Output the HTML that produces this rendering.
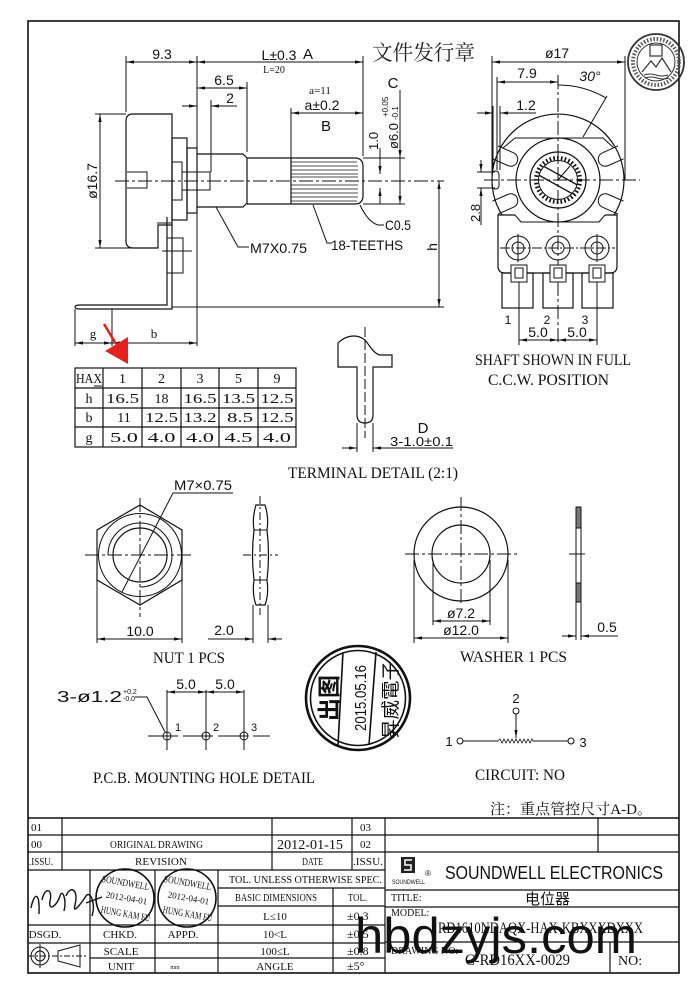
<!DOCTYPE html>
<html><head><meta charset="utf-8"><style>
html,body{margin:0;padding:0;background:#fff;}
svg{display:block;}
.s{font-family:"Liberation Sans","Noto Sans CJK SC",sans-serif;fill:#111;}
.r{font-family:"Liberation Serif","Noto Serif CJK SC",serif;fill:#111;}
</style></head><body>
<svg width="700" height="984" viewBox="0 0 700 984" xmlns="http://www.w3.org/2000/svg">
<defs>
<marker id="a" viewBox="0 0 10 10" refX="10" refY="5" markerWidth="8" markerHeight="8" orient="auto-start-reverse" markerUnits="userSpaceOnUse"><path d="M0,3 L10,5 L0,7 z" fill="#111"/></marker>
</defs>
<rect width="700" height="984" fill="#fff"/>
<!-- frame -->
<rect x="28" y="21" width="651" height="952" fill="none" stroke="#111" stroke-width="1.6"/>

<g stroke="#111" fill="none" stroke-width="1">
<!-- ===== side view dims ===== -->
<line x1="126" y1="62" x2="197" y2="62" marker-start="url(#a)" marker-end="url(#a)"/>
<line x1="197" y1="62" x2="363" y2="62" marker-start="url(#a)" marker-end="url(#a)"/>
<line x1="126" y1="56" x2="126" y2="112"/>
<line x1="197" y1="56" x2="197" y2="346"/>
<line x1="363" y1="56" x2="363" y2="156"/>
<line x1="197" y1="88" x2="247" y2="88" marker-start="url(#a)" marker-end="url(#a)"/>
<line x1="247" y1="82" x2="247" y2="152"/>
<line x1="182" y1="106" x2="197" y2="106" marker-end="url(#a)"/>
<line x1="237" y1="106" x2="211" y2="106" marker-end="url(#a)"/>
<line x1="211" y1="100" x2="211" y2="172"/>
<line x1="291" y1="113" x2="363" y2="113" marker-start="url(#a)" marker-end="url(#a)"/>
<line x1="291" y1="108" x2="291" y2="158"/>
<line x1="100" y1="114" x2="100" y2="248" marker-start="url(#a)" marker-end="url(#a)"/>
<line x1="95" y1="114" x2="126" y2="114"/>
<line x1="95" y1="248" x2="133" y2="248"/>
<line x1="439" y1="181" x2="439" y2="307" marker-start="url(#a)" marker-end="url(#a)"/>
<line x1="172" y1="307" x2="444" y2="307"/>
<line x1="115" y1="181" x2="444" y2="181" stroke-dasharray="14 3 3 3"/>
<line x1="380" y1="148" x2="380" y2="174" marker-end="url(#a)"/>
<line x1="380" y1="204" x2="380" y2="188" marker-end="url(#a)"/>
<line x1="400" y1="90" x2="400" y2="158" marker-end="url(#a)"/>
<line x1="400" y1="158" x2="400" y2="204" marker-end="url(#a)"/>
<line x1="363" y1="158" x2="405" y2="158"/>
<line x1="363" y1="204" x2="405" y2="204"/>

<!-- body -->
<path d="M133,114 H172 V225 H158 V248 H133 Q126,248 126,241 V121 Q126,114 133,114 Z" stroke-width="1.2"/>
<rect x="172" y="138" width="15" height="82" stroke-width="1.2"/>
<rect x="187" y="148" width="10" height="65" stroke-width="1.2"/>
<path d="M172,162 H182 V200 H172 M182,172 H210 V190 H182"/>
<path d="M127,172 H147 V188 H127"/>
<!-- bracket -->
<path d="M167,217 V305 H80 Q75,305 75,307 Q75,309 80,309 H172 V225" stroke-width="1.2"/>
<path d="M157,223 H172"/>
<rect x="167" y="238" width="16" height="35"/>
<line x1="162" y1="251" x2="192" y2="251"/>
<line x1="75" y1="309" x2="75" y2="346"/>
<line x1="112" y1="309" x2="112" y2="346"/>
<line x1="75" y1="343" x2="112" y2="343" marker-start="url(#a)" marker-end="url(#a)"/>
<line x1="112" y1="343" x2="197" y2="343" marker-start="url(#a)" marker-end="url(#a)"/>
<!-- bushing & shaft -->
<path d="M197,154 H243 L247,158 V203 L243,207 H197" stroke-width="1.2"/>
<path d="M247,158 H355 Q362,158 363,165 V197 Q362,204 355,204 H247" stroke-width="1.2"/>
<line x1="291" y1="158" x2="291" y2="204" stroke-width="1.2"/>
<g stroke-width="0.8">
<line x1="291" y1="162" x2="357" y2="162"/><line x1="291" y1="166" x2="358" y2="166"/>
<line x1="291" y1="170" x2="358" y2="170"/><line x1="291" y1="174" x2="358" y2="174"/>
<line x1="291" y1="177" x2="358" y2="177"/><line x1="291" y1="185" x2="358" y2="185"/>
<line x1="291" y1="189" x2="358" y2="189"/><line x1="291" y1="193" x2="358" y2="193"/>
<line x1="291" y1="197" x2="358" y2="197"/><line x1="291" y1="201" x2="357" y2="201"/>
</g>
<!-- leaders -->
<polyline points="216,207 238,247 249,247"/>
<polyline points="313,205 327,243 332,243"/>
<path d="M360,205 Q368,222 378,225 H384"/>

<!-- ===== front view ===== -->
<line x1="492" y1="62" x2="625" y2="62" marker-start="url(#a)" marker-end="url(#a)"/>
<line x1="492" y1="56" x2="492" y2="176"/>
<line x1="625" y1="56" x2="625" y2="180"/>
<line x1="497" y1="82" x2="558" y2="82" marker-start="url(#a)" marker-end="url(#a)"/>
<line x1="497" y1="77" x2="497" y2="170"/>
<path d="M558,85 A95,95 0 0 1 605.5,97.7"/>
<line x1="607" y1="96" x2="583" y2="137"/>
<line x1="477" y1="113" x2="493" y2="113" marker-end="url(#a)"/>
<line x1="536" y1="113" x2="500" y2="113" marker-end="url(#a)"/>
<line x1="493" y1="106" x2="493" y2="170"/>
<line x1="500" y1="106" x2="500" y2="170"/>
<path d="M502,215 A66,66 0 1 1 614,215" stroke-width="1.2"/>
<path d="M515,215 H498 V266 Q498,273 505,273 H610 Q617,273 617,266 V215 H605" stroke-width="1.2"/>
<path d="M515,215 L521,222 H599 L605,215"/>
<path d="M503,148 L515,138 H603 L614,148"/>
<g transform="translate(508,158) rotate(23.7)"><path d="M-14,-7 H3 A7,7 0 0 1 3,7 H-14"/></g>
<g transform="translate(608,158) rotate(156.3)"><path d="M-14,-7 H3 A7,7 0 0 1 3,7 H-14"/></g>
<g transform="translate(508,202) rotate(-23.7)"><path d="M-14,-7 H3 A7,7 0 0 1 3,7 H-14"/></g>
<g transform="translate(608,202) rotate(-156.3)"><path d="M-14,-7 H3 A7,7 0 0 1 3,7 H-14"/></g>
<circle cx="558" cy="180" r="42" stroke-width="1.2"/>
<circle cx="558" cy="180" r="28" stroke-width="1.3"/>
<circle cx="558" cy="180" r="22" stroke-width="4" stroke-dasharray="1.6 2.2"/>
<circle cx="558" cy="180" r="19.5"/>
<line x1="538.6" y1="175" x2="572.5" y2="193.8" stroke-width="1.3"/>
<line x1="543.5" y1="166.2" x2="577.4" y2="185" stroke-width="1.3"/>
<line x1="558" y1="180" x2="570" y2="166"/>
<rect x="492" y="171" width="7" height="18" rx="3.5"/>
<line x1="484" y1="180" x2="640" y2="180" stroke-dasharray="14 3 3 3"/>
<line x1="558" y1="75" x2="558" y2="345" stroke-dasharray="14 3 3 3"/>
<line x1="481" y1="160" x2="481" y2="172" marker-end="url(#a)"/>
<line x1="481" y1="225" x2="481" y2="188" marker-end="url(#a)"/>
<line x1="477" y1="172" x2="495" y2="172"/>
<line x1="477" y1="188" x2="495" y2="188"/>
<!-- terminal holes -->
<circle cx="518" cy="248" r="12"/><circle cx="518" cy="248" r="6"/>
<circle cx="558" cy="248" r="12"/><circle cx="558" cy="248" r="6"/>
<circle cx="597" cy="248" r="12"/><circle cx="597" cy="248" r="6"/>
<line x1="500" y1="248" x2="615" y2="248" stroke-dasharray="10 2 2 2"/>
<line x1="518" y1="234" x2="518" y2="262"/><line x1="597" y1="234" x2="597" y2="262"/>
<!-- terminal tabs -->
<rect x="502" y="273" width="31" height="35" stroke-width="1.2"/>
<rect x="543" y="273" width="30" height="35" stroke-width="1.2"/>
<rect x="582" y="273" width="31" height="35" stroke-width="1.2"/>
<rect x="511" y="265" width="16" height="17" fill="#fff"/><rect x="515" y="268" width="8" height="10"/>
<rect x="550" y="265" width="16" height="17" fill="#fff"/><rect x="554" y="268" width="8" height="10"/>
<rect x="589" y="265" width="16" height="17" fill="#fff"/><rect x="593" y="268" width="8" height="10"/>
<line x1="519" y1="282" x2="519" y2="345"/>
<line x1="597" y1="282" x2="597" y2="345"/>
<line x1="519" y1="340" x2="558" y2="340" marker-start="url(#a)" marker-end="url(#a)"/>
<line x1="558" y1="340" x2="597" y2="340" marker-start="url(#a)" marker-end="url(#a)"/>

<!-- ===== table ===== -->
<g stroke-width="1.2">
<rect x="75" y="368" width="221" height="79"/>
<line x1="75" y1="388" x2="296" y2="388"/><line x1="75" y1="408" x2="296" y2="408"/><line x1="75" y1="427" x2="296" y2="427"/>
<line x1="103" y1="368" x2="103" y2="447"/><line x1="142" y1="368" x2="142" y2="447"/>
<line x1="181" y1="368" x2="181" y2="447"/><line x1="219" y1="368" x2="219" y2="447"/>
<line x1="258" y1="368" x2="258" y2="447"/>
</g>
<line x1="94" y1="386" x2="102" y2="386"/>

<!-- terminal detail -->
<path d="M338,343 C345,336 356,333 365,340 C370,346 374,354 380,355 L392,355 L392,367 L373,367 L373,415 Q373,423 365,423 Q357,423 357,415 L357,367 L338,367 Z" stroke-width="1.2"/>
<line x1="365" y1="327" x2="365" y2="438" stroke-dasharray="10 3"/>
<line x1="357" y1="423" x2="357" y2="452"/><line x1="373" y1="423" x2="373" y2="452"/>
<line x1="342" y1="448" x2="357" y2="448" marker-end="url(#a)"/>
<line x1="453" y1="448" x2="373" y2="448" marker-end="url(#a)"/>

<!-- ===== nut ===== -->
<polygon points="140,505 182,530 182,580 140,605 97,580 97,530" stroke-width="1.2"/>
<circle cx="140" cy="555" r="41.5"/>
<path d="M108,555 A32,32 0 1 1 140,587"/>
<circle cx="140" cy="555" r="27" stroke-width="1.2"/>
<line x1="85" y1="555" x2="193" y2="555" stroke-dasharray="14 3 3 3"/>
<line x1="140" y1="498" x2="140" y2="617" stroke-dasharray="14 3 3 3"/>
<line x1="173" y1="493" x2="122" y2="592"/>
<line x1="173" y1="493" x2="233" y2="493"/>
<line x1="97" y1="580" x2="97" y2="643"/><line x1="182" y1="580" x2="182" y2="643"/>
<line x1="97" y1="639" x2="182" y2="639" marker-start="url(#a)" marker-end="url(#a)"/>
<path d="M256,505 Q252,518 254,530 Q251,555 254,580 Q252,594 256,605 H265 Q269,594 267,580 Q270,555 267,530 Q269,518 265,505 Z" stroke-width="1.2"/>
<path d="M254,530 H267 M254,580 H267"/>
<line x1="260" y1="496" x2="260" y2="615" stroke-dasharray="8 3 2 3"/>
<line x1="243" y1="555" x2="278" y2="555" stroke-dasharray="8 3 2 3"/>
<line x1="253" y1="605" x2="253" y2="643"/><line x1="268" y1="605" x2="268" y2="643"/>
<line x1="208" y1="639" x2="253" y2="639" marker-end="url(#a)"/>
<line x1="282" y1="639" x2="268" y2="639" marker-end="url(#a)"/>

<!-- ===== washer ===== -->
<circle cx="461" cy="554" r="47" stroke-width="1.2"/>
<circle cx="461" cy="554" r="29" stroke-width="1.2"/>
<line x1="405" y1="554" x2="517" y2="554" stroke-dasharray="14 3 3 3"/>
<line x1="461" y1="497" x2="461" y2="603" stroke-dasharray="14 3 3 3"/>
<line x1="433" y1="560" x2="433" y2="625"/><line x1="490" y1="560" x2="490" y2="625"/>
<line x1="433" y1="621" x2="490" y2="621" marker-start="url(#a)" marker-end="url(#a)"/>
<line x1="414" y1="560" x2="414" y2="643"/><line x1="508" y1="560" x2="508" y2="643"/>
<line x1="414" y1="638" x2="508" y2="638" marker-start="url(#a)" marker-end="url(#a)"/>
<rect x="576" y="507" width="5" height="95"/>
<rect x="576" y="507" width="5" height="21" fill="#777"/>
<rect x="576" y="583" width="5" height="19" fill="#777"/>
<line x1="569" y1="554" x2="585" y2="554"/>
<line x1="576" y1="602" x2="576" y2="640"/><line x1="581" y1="602" x2="581" y2="640"/>
<line x1="562" y1="636" x2="576" y2="636" marker-end="url(#a)"/>
<line x1="618" y1="636" x2="581" y2="636" marker-end="url(#a)"/>

<!-- ===== PCB holes ===== -->
<circle cx="167" cy="736" r="4"/><circle cx="206" cy="736" r="4"/><circle cx="244" cy="736" r="4"/>
<line x1="148" y1="736" x2="270" y2="736" stroke-dasharray="30 5"/>
<line x1="167" y1="690" x2="167" y2="750"/><line x1="206" y1="690" x2="206" y2="750"/><line x1="244" y1="690" x2="244" y2="750"/>
<line x1="167" y1="692" x2="206" y2="692" marker-start="url(#a)" marker-end="url(#a)"/>
<line x1="206" y1="692" x2="244" y2="692" marker-start="url(#a)" marker-end="url(#a)"/>
<polyline points="135,697 147,697 165,732"/>

<!-- ===== circuit ===== -->
<circle cx="516" cy="711" r="3"/>
<line x1="516" y1="714" x2="516" y2="738" marker-end="url(#a)"/>
<circle cx="460" cy="741" r="3"/>
<line x1="463" y1="741" x2="498" y2="741"/>
<polyline points="498,741 500,739 502,743 504,739 506,743 508,739 510,743 512,739 514,743 516,739 518,743 520,739 522,743 524,739 526,743 528,739 530,743 532,739 533,741" stroke-width="0.8"/>
<line x1="533" y1="741" x2="568" y2="741"/>
<circle cx="571" cy="741" r="3"/>

<!-- ===== stamp ===== -->
<circle cx="358" cy="698" r="52" stroke-width="2.6"/>
<circle cx="358" cy="698" r="47.5" stroke-width="1.6"/>
<line x1="343" y1="652" x2="338" y2="745" stroke-width="1.6"/>
<line x1="376" y1="652" x2="369" y2="745" stroke-width="1.6"/>

<!-- ===== emblem ===== -->
<g stroke="#333">
<circle cx="656" cy="62" r="28" stroke-width="1.8"/>
<circle cx="656" cy="62" r="23" stroke-width="4" stroke-dasharray="1.5 1.8" stroke="#555"/>
<circle cx="656" cy="62" r="19" stroke-width="1"/>
<rect x="650" y="45" width="12" height="11" stroke-width="1.2"/>
<path d="M642,72 L651,61 L656,67 L662,58 L671,72" stroke-width="1.2"/>
<path d="M644,75 Q650,73 656,75 T668,75 M645,78 Q651,76 657,78 T669,78"/>
</g>

<!-- ===== title block ===== -->
<g stroke-width="1.2">
<line x1="28" y1="818" x2="679" y2="818" stroke-width="1.6"/>
<line x1="28" y1="835" x2="679" y2="835"/>
<line x1="28" y1="852" x2="679" y2="852"/>
<line x1="28" y1="870" x2="385" y2="870"/>
<line x1="218" y1="888" x2="385" y2="888"/>
<line x1="385" y1="890" x2="679" y2="890"/>
<line x1="218" y1="906" x2="385" y2="906"/>
<line x1="385" y1="907" x2="679" y2="907"/>
<line x1="28" y1="925" x2="385" y2="925"/>
<line x1="385" y1="942" x2="610" y2="942"/>
<line x1="610" y1="942" x2="679" y2="942"/>
<line x1="28" y1="943" x2="385" y2="943"/>
<line x1="90" y1="958" x2="385" y2="958"/>
<line x1="62" y1="818" x2="62" y2="870"/>
<line x1="272" y1="818" x2="272" y2="870"/>
<line x1="352" y1="818" x2="352" y2="870"/>
<line x1="385" y1="818" x2="385" y2="973"/>
<line x1="598" y1="818" x2="598" y2="852"/>
<line x1="90" y1="870" x2="90" y2="973"/>
<line x1="155" y1="870" x2="155" y2="973"/>
<line x1="218" y1="870" x2="218" y2="973"/>
<line x1="333" y1="888" x2="333" y2="973"/>
<line x1="610" y1="942" x2="610" y2="973"/>
</g>
<!-- signature -->
<path d="M31,908 C34,893 40,890 39,914 M42,900 C45,886 53,889 50,901 C48,912 57,906 60,896 C62,888 67,899 64,911 M66,896 C70,885 79,889 75,905 C72,916 82,902 86,896 C90,890 96,903 92,916 M86,903 L102,897" stroke-width="1.4"/>
<!-- stamps -->
<circle cx="125" cy="898" r="29" stroke-width="1.6"/>
<circle cx="187" cy="898" r="29" stroke-width="1.6"/>
<!-- symbol -->
<circle cx="40" cy="956" r="9"/><circle cx="40" cy="956" r="5"/>
<line x1="28" y1="956" x2="88" y2="956" stroke-dasharray="6 2 2 2"/>
<line x1="40" y1="944" x2="40" y2="968"/>
<polygon points="58,951 80,945 80,967 58,961"/>
</g>

<!-- red arrow -->
<line x1="104" y1="324" x2="116" y2="344" stroke="#e3221f" stroke-width="2.5"/>
<polygon points="105,351 128,337 128,364" fill="#e3221f"/>

<!-- ===== TEXT ===== -->
<g class="s" font-size="14">
<text x="162" y="59" text-anchor="middle">9.3</text>
<text x="279" y="60" text-anchor="middle">L±0.3</text>
<text x="303" y="59" font-size="15">A</text>
<text x="224" y="85" text-anchor="middle">6.5</text>
<text x="230" y="103" text-anchor="middle">2</text>
<text x="322" y="110" text-anchor="middle">a±0.2</text>
<text x="326" y="131" font-size="15" text-anchor="middle">B</text>
<text x="393" y="88" font-size="15" text-anchor="middle">C</text>
<text transform="translate(398,149) rotate(-90)" font-size="13">ø6.0</text>
<text transform="translate(388,117) rotate(-90)" font-size="8">+0.05</text>
<text transform="translate(398,120) rotate(-90)" font-size="8">-0.1</text>
<text transform="translate(378,150) rotate(-90)" font-size="13">1.0</text>
<text transform="translate(437,247) rotate(-90)" text-anchor="middle">h</text>
<text transform="translate(97,181) rotate(-90)" text-anchor="middle">ø16.7</text>
<text x="250" y="253" textLength="57" lengthAdjust="spacingAndGlyphs">M7X0.75</text>
<text x="331" y="250" textLength="72" lengthAdjust="spacingAndGlyphs">18-TEETHS</text>
<text x="385" y="230" textLength="26" lengthAdjust="spacingAndGlyphs">C0.5</text>
<text x="557" y="58" text-anchor="middle">ø17</text>
<text x="527" y="78" text-anchor="middle">7.9</text>
<text x="590" y="81" text-anchor="middle" font-style="italic">30°</text>
<text x="526" y="110" text-anchor="middle">1.2</text>
<text transform="translate(480,222) rotate(-90)" font-size="13">2.8</text>
<text x="508" y="324" font-size="12" text-anchor="middle">1</text>
<text x="547" y="324" font-size="12" text-anchor="middle">2</text>
<text x="585" y="324" font-size="12" text-anchor="middle">3</text>
<text x="538" y="337" text-anchor="middle">5.0</text>
<text x="577" y="337" text-anchor="middle">5.0</text>
<text x="423" y="433" font-size="15" text-anchor="middle">D</text>
<text x="390" y="446" textLength="63" lengthAdjust="spacingAndGlyphs" font-size="13">3-1.0±0.1</text>
<text x="174" y="490" textLength="58" lengthAdjust="spacingAndGlyphs">M7×0.75</text>
<text x="140" y="636" text-anchor="middle">10.0</text>
<text x="224" y="635" text-anchor="middle">2.0</text>
<text x="461" y="618" text-anchor="middle">ø7.2</text>
<text x="461" y="635" text-anchor="middle">ø12.0</text>
<text x="607" y="632" text-anchor="middle">0.5</text>
<text x="57" y="702" font-size="16" textLength="65" lengthAdjust="spacingAndGlyphs">3-ø1.2</text>
<text x="123" y="694" font-size="7">+0.2</text>
<text x="123" y="701" font-size="7">-0.0</text>
<text x="186" y="689" text-anchor="middle">5.0</text>
<text x="225" y="689" text-anchor="middle">5.0</text>
<text x="175" y="731" font-size="11">1</text>
<text x="213" y="731" font-size="11">2</text>
<text x="251" y="731" font-size="11">3</text>
<text x="516" y="703" font-size="13" text-anchor="middle">2</text>
<text x="449" y="746" font-size="13" text-anchor="middle">1</text>
<text x="583" y="747" font-size="13" text-anchor="middle">3</text>
</g>

<g class="r">
<text x="274" y="73" font-size="10" text-anchor="middle">L=20</text>
<text x="320" y="94" font-size="11" text-anchor="middle">a=11</text>
<text x="475" y="365" font-size="16" textLength="156" lengthAdjust="spacingAndGlyphs">SHAFT SHOWN IN FULL</text>
<text x="488" y="385" font-size="16" textLength="121" lengthAdjust="spacingAndGlyphs">C.C.W. POSITION</text>
<text x="288" y="478" font-size="16" textLength="170" lengthAdjust="spacingAndGlyphs">TERMINAL DETAIL (2:1)</text>
<text x="153" y="663" font-size="16" textLength="72" lengthAdjust="spacingAndGlyphs">NUT 1 PCS</text>
<text x="460" y="662" font-size="16" textLength="107" lengthAdjust="spacingAndGlyphs">WASHER  1 PCS</text>
<text x="93" y="783" font-size="16" textLength="222" lengthAdjust="spacingAndGlyphs">P.C.B. MOUNTING HOLE DETAIL</text>
<text x="475" y="780" font-size="16" textLength="90" lengthAdjust="spacingAndGlyphs">CIRCUIT: NO</text>
<text x="490" y="814" font-size="15" textLength="162" lengthAdjust="spacingAndGlyphs">注：重点管控尺寸A-D。</text>
<text x="372" y="60" font-size="21" fill="#222" textLength="103" lengthAdjust="spacingAndGlyphs">文件发行章</text>
<!-- table -->
<g font-size="14" text-anchor="middle">
<text x="89" y="383" textLength="26" lengthAdjust="spacingAndGlyphs">HAX</text>
<text x="122.5" y="383">1</text><text x="161.5" y="383">2</text><text x="200" y="383">3</text><text x="238.5" y="383">5</text><text x="277" y="383">9</text>
<text x="89" y="403">h</text>
<text x="122.5" y="403" textLength="33" lengthAdjust="spacingAndGlyphs">16.5</text>
<text x="161.5" y="403">18</text>
<text x="200" y="403" textLength="33" lengthAdjust="spacingAndGlyphs">16.5</text>
<text x="238.5" y="403" textLength="33" lengthAdjust="spacingAndGlyphs">13.5</text>
<text x="277" y="403" textLength="33" lengthAdjust="spacingAndGlyphs">12.5</text>
<text x="89" y="422">b</text>
<text x="124" y="422">11</text>
<text x="161.5" y="422" textLength="33" lengthAdjust="spacingAndGlyphs">12.5</text>
<text x="200" y="422" textLength="33" lengthAdjust="spacingAndGlyphs">13.2</text>
<text x="240" y="422" textLength="26" lengthAdjust="spacingAndGlyphs">8.5</text>
<text x="277" y="422" textLength="33" lengthAdjust="spacingAndGlyphs">12.5</text>
<text x="89" y="442">g</text>
<text x="124" y="442" textLength="28" lengthAdjust="spacingAndGlyphs">5.0</text>
<text x="161.5" y="442" textLength="28" lengthAdjust="spacingAndGlyphs">4.0</text>
<text x="200" y="442" textLength="28" lengthAdjust="spacingAndGlyphs">4.0</text>
<text x="238.5" y="442" textLength="28" lengthAdjust="spacingAndGlyphs">4.5</text>
<text x="277" y="442" textLength="28" lengthAdjust="spacingAndGlyphs">4.0</text>
</g>
<text x="93" y="338" font-size="13" text-anchor="middle">g</text>
<text x="154" y="338" font-size="13" text-anchor="middle">b</text>
<!-- title block text -->
<g font-size="11">
<text x="31" y="831">01</text><text x="31" y="848">00</text><text x="29" y="865" textLength="24" lengthAdjust="spacingAndGlyphs">.ISSU.</text>
<text x="110" y="848" textLength="93" lengthAdjust="spacingAndGlyphs">ORIGINAL  DRAWING</text>
<text x="135" y="865" textLength="52" lengthAdjust="spacingAndGlyphs">REVISION</text>
<text x="277" y="849" font-size="14" textLength="66" lengthAdjust="spacingAndGlyphs">2012-01-15</text>
<text x="302" y="865" textLength="21" lengthAdjust="spacingAndGlyphs">DATE</text>
<text x="360" y="831">03</text><text x="360" y="848">02</text>
<text x="353" y="865" textLength="30" lengthAdjust="spacingAndGlyphs">.ISSU.</text>
<text x="229" y="883" textLength="153" lengthAdjust="spacingAndGlyphs">TOL. UNLESS  OTHERWISE  SPEC.</text>
<text x="235" y="901" textLength="82" lengthAdjust="spacingAndGlyphs">BASIC DIMENSIONS</text>
<text x="348" y="901" textLength="19" lengthAdjust="spacingAndGlyphs">TOL.</text>
<g text-anchor="middle">
<text x="275" y="920">L≤10</text><text x="275" y="938">10&lt;L</text><text x="275" y="955">100≤L</text><text x="275" y="970">ANGLE</text>
<text x="45" y="938">DSGD.</text><text x="120" y="938">CHKD.</text><text x="183" y="938">APPD.</text>
<text x="121" y="955">SCALE</text><text x="121" y="970">UNIT</text>
<text x="175" y="969" font-size="6">mm</text>
</g>
<text x="347" y="920" font-size="12">±0.3</text><text x="347" y="938" font-size="12">±0.5</text>
<text x="347" y="955" font-size="12">±0.8</text><text x="347" y="970" font-size="12">±5°</text>
<text x="391" y="901" font-size="10">TITLE:</text>
<text x="391" y="916" font-size="10">MODEL:</text>
<text x="391" y="954" font-size="10">DRAWING NO:</text>
<text x="438" y="933" font-size="16" textLength="205" lengthAdjust="spacingAndGlyphs">RD1610NDAQX-HAX-KBXXXDXXX</text>
<text x="465" y="965" font-size="16" textLength="105" lengthAdjust="spacingAndGlyphs">C-RD16XX-0029</text>
<text x="618" y="965" font-size="14">NO:</text>
</g>
<!-- stamp text -->
<g font-size="10" text-anchor="middle">
<text transform="translate(125,886) rotate(10)" textLength="48" lengthAdjust="spacingAndGlyphs">SOUNDWELL</text>
<text transform="translate(126,901) rotate(10)" font-size="9">2012-04-01</text>
<text transform="translate(125,917) rotate(10)" textLength="50" lengthAdjust="spacingAndGlyphs">HUNG KAM FU</text>
<text transform="translate(187,886) rotate(10)" textLength="48" lengthAdjust="spacingAndGlyphs">SOUNDWELL</text>
<text transform="translate(188,901) rotate(10)" font-size="9">2012-04-01</text>
<text transform="translate(187,917) rotate(10)" textLength="50" lengthAdjust="spacingAndGlyphs">HUNG KAM FU</text>
</g>
</g>

<!-- round stamp text -->
<text transform="translate(337,698) rotate(-90)" text-anchor="middle" font-family="'Noto Sans CJK SC',sans-serif" font-weight="bold" font-size="23" fill="#111">出图</text>
<text transform="translate(366,698) rotate(-90)" text-anchor="middle" font-family="'Liberation Sans',sans-serif" font-size="16" fill="#111" textLength="66" lengthAdjust="spacingAndGlyphs">2015.05.16</text>
<text transform="translate(397,700) rotate(-90)" text-anchor="middle" font-family="'Noto Sans CJK TC',sans-serif" font-size="19" fill="#111" textLength="78" lengthAdjust="spacingAndGlyphs">昇威電子</text>

<!-- logo -->
<rect x="401" y="857" width="14" height="16" fill="#222"/>
<path d="M412,860 H405 V865 H411 V870 H404" stroke="#fff" stroke-width="1.5" fill="none"/>
<text x="392" y="884" font-family="'Liberation Sans',sans-serif" font-size="6" textLength="33" lengthAdjust="spacingAndGlyphs" fill="#111">SOUNDWELL</text>
<text x="425" y="876" font-family="'Liberation Sans',sans-serif" font-size="8" fill="#111">®</text>
<text x="445" y="879" font-family="'Liberation Sans',sans-serif" font-size="18" textLength="218" lengthAdjust="spacingAndGlyphs" fill="#111">SOUNDWELL  ELECTRONICS</text>
<text x="525" y="904" font-family="'Noto Sans CJK SC',sans-serif" font-size="15" fill="#111">电位器</text>

<!-- watermark -->
<text x="355" y="953" font-family="'Liberation Sans',sans-serif" font-size="50" fill="#111" textLength="282" lengthAdjust="spacingAndGlyphs">hbdzyjs.com</text>
</svg>
</body></html>
